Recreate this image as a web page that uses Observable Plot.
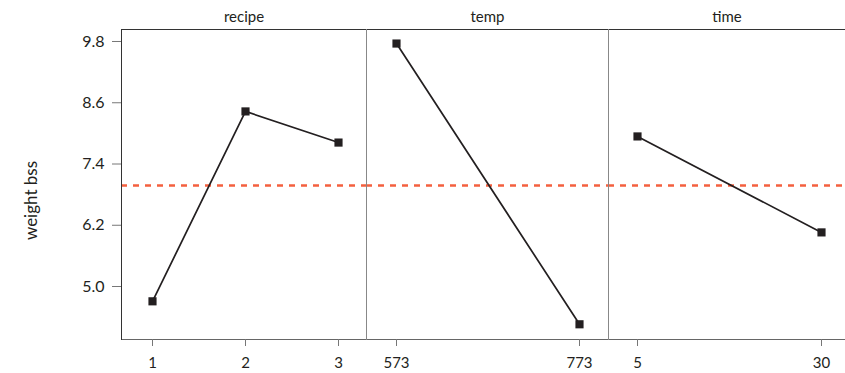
<!DOCTYPE html>
<html>
<head>
<meta charset="utf-8">
<script src="https://cdn.jsdelivr.net/npm/d3@7"></script>
<script src="https://cdn.jsdelivr.net/npm/@observablehq/plot@0.6"></script>
<style>
  html, body { margin: 0; padding: 0; background: #fff; }
  #chart { display: flex; flex-direction: row; width: 845px; height: 373px; overflow: hidden; }
  #chart svg { display: block; flex: none; }
  #chart g[aria-label="y-axis tick label"] text { font-size: 16px !important; }
  #chart g[aria-label="x-axis tick label"] text { font-size: 15px !important; }
  #chart g[aria-label="facet name"] text { font-size: 15px !important; }
  #chart g[aria-label="y label"] text { font-size: 17px !important; letter-spacing: 0.6px; }
</style>
</head>
<body>
<div id="chart"></div>
<script>
// ---- data ----
const factors = ["recipe", "temp", "time"];
const recipeLevels = ["1", "2", "3"];
const recipeMeans = [4.71, 8.43, 7.82];
const tempLevels = ["573", "773"];
const tempMeans = [9.76, 4.26];
const timeLevels = ["5", "30"];
const timeMeans = [7.94, 6.06];
const grandMean = [6.98];
const yTicks = [5.0, 6.2, 7.4, 8.6, 9.8];
const yLabel = ["weight bss"];

const ink = "#231f20";
const font = "Lato, 'Open Sans', sans-serif";
const yDomain = [3.962, 10.035];

function panel({name, levels, means, width, marginLeft, insetLeft, insetRight, first}) {
  const data = levels.map((l, i) => ({level: l, value: means[i]}));
  const marks = [
    Plot.ruleY(grandMean, {stroke: "#f4603f", strokeWidth: 2.6, strokeDasharray: "6,6"}),
    Plot.line(data, {x: "level", y: "value", stroke: ink, strokeWidth: 1.7}),
    Plot.dot(data, {x: "level", y: "value", symbol: "square", r: 4.6, fill: ink, stroke: "none"}),
    Plot.frame({anchor: "top", stroke: "#333"}),
    Plot.frame({anchor: "bottom", stroke: "#666"}),
    Plot.frame({anchor: "left", stroke: first ? "#333" : "#888"}),
    Plot.axisX({tickSize: 7, tickPadding: 11, stroke: "#777", fill: ink, fontSize: 15, label: null}),
    Plot.text([name], {frameAnchor: "top", lineAnchor: "middle", textAnchor: "middle", dy: -12, fontSize: 15, fill: ink, ariaLabel: "facet name"})
  ];
  if (first) {
    marks.push(Plot.axisY({ticks: yTicks, tickFormat: d3.format(".1f"), tickSize: 9, tickPadding: 8,
      stroke: "#777", fill: ink, fontSize: 16, label: null}));
    marks.push(Plot.text(yLabel, {frameAnchor: "left", textAnchor: "middle", lineAnchor: "middle", dx: -90, dy: 16, rotate: -90, fontSize: 17, fill: ink, ariaLabel: "y label"}));
  } else {
    marks.push(Plot.axisY({ticks: [], label: null}));
  }
  return Plot.plot({
    width, height: 373,
    marginLeft, marginRight: 0, marginTop: 29, marginBottom: 34,
    style: {fontFamily: font, fontSize: "15px", color: ink, background: "#fff", overflow: "visible"},
    x: {type: "point", domain: levels, padding: 0, insetLeft, insetRight},
    y: {domain: yDomain},
    marks
  });
}

const root = document.getElementById("chart");
root.append(panel({name: factors[0], levels: recipeLevels, means: recipeMeans, width: 366, marginLeft: 121, insetLeft: 31, insetRight: 28, first: true}));
root.append(panel({name: factors[1], levels: tempLevels, means: tempMeans, width: 242, marginLeft: 0, insetLeft: 30, insetRight: 29, first: false}));
root.append(panel({name: factors[2], levels: timeLevels, means: timeMeans, width: 237, marginLeft: 0, insetLeft: 29, insetRight: 24, first: false}));
</script>
</body>
</html>
